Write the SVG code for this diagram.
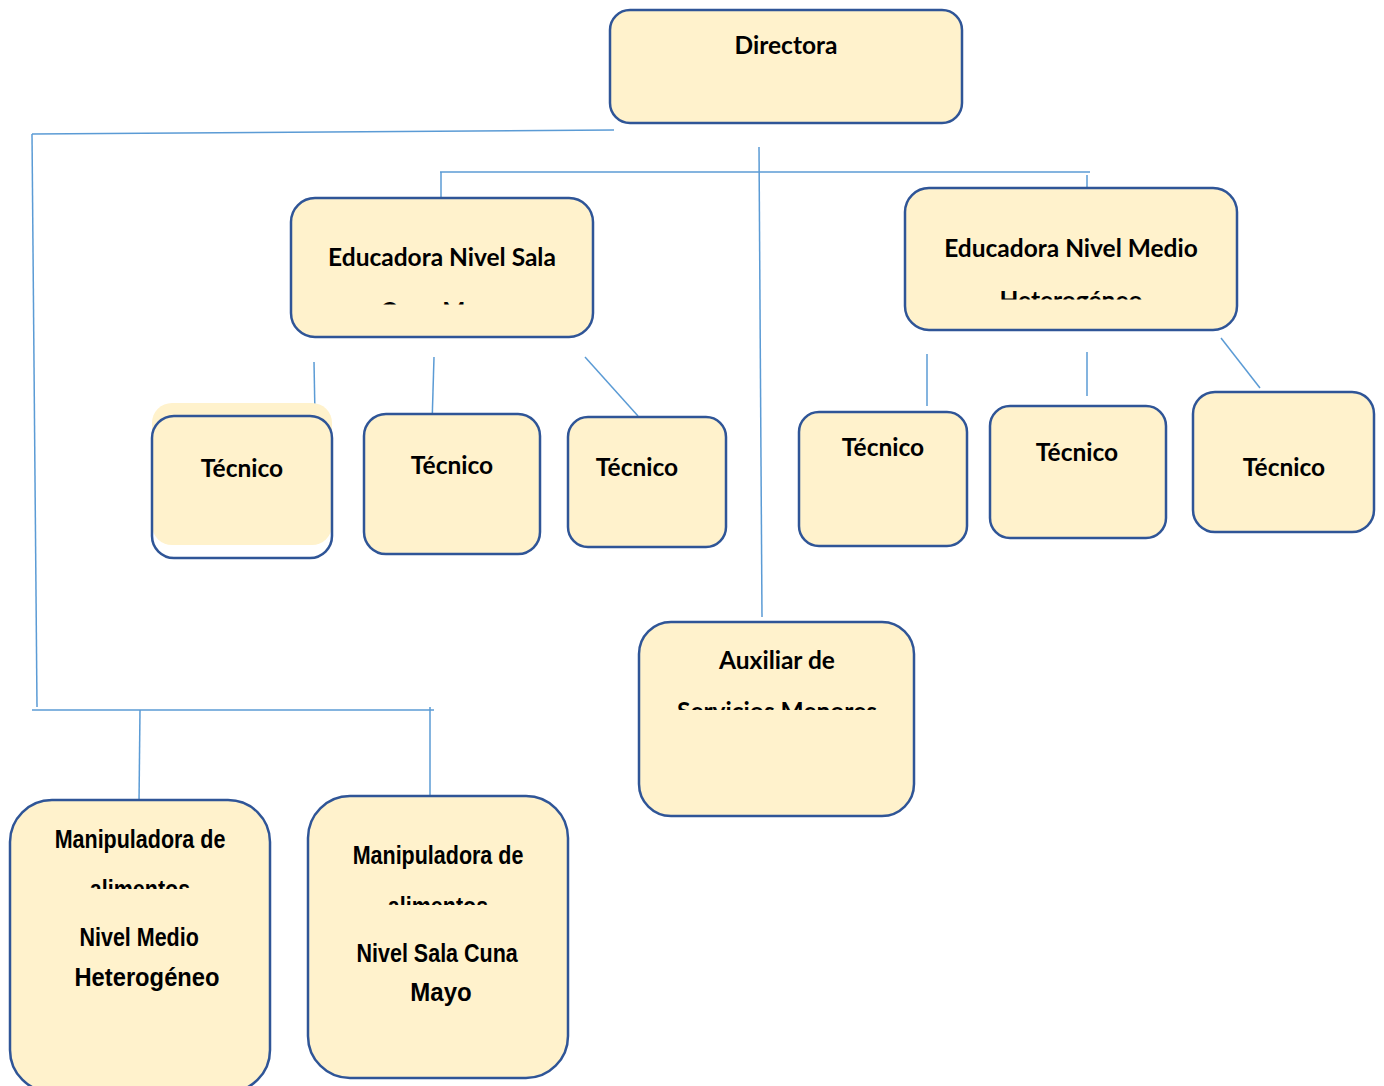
<svg xmlns="http://www.w3.org/2000/svg" width="1384" height="1086" viewBox="0 0 1384 1086">
<style>
.box{fill:#fff2cc;stroke:#2f5597;stroke-width:2.5}
.fillonly{fill:#fff2cc;stroke:none}
.t{font-family:Lato,"Open Sans","Liberation Sans",sans-serif;font-weight:bold;font-size:24.5px;fill:#000;text-anchor:middle}
.n{font-family:"Liberation Sans",Arial,sans-serif;font-weight:bold;font-size:25px;fill:#000;text-anchor:middle}
.c line{stroke:#5b9bd5;stroke-width:1.5;fill:none}
</style>
<defs>
<clipPath id="c1"><rect x="0" y="0" width="1384" height="304.5"/></clipPath>
<clipPath id="c2"><rect x="0" y="0" width="1384" height="299.5"/></clipPath>
<clipPath id="c3"><rect x="0" y="0" width="1384" height="710"/></clipPath>
<clipPath id="c4"><rect x="-1000" y="0" width="3000" height="889"/></clipPath>
<clipPath id="c5"><rect x="-1000" y="0" width="3000" height="905"/></clipPath>
</defs>
<rect width="1384" height="1086" fill="#fff"/>
<g class="c">
<line x1="614" y1="130" x2="32" y2="134"/>
<line x1="32" y1="134" x2="37" y2="707"/>
<line x1="32" y1="710" x2="434" y2="710"/>
<line x1="140" y1="710" x2="139" y2="803"/>
<line x1="430" y1="707" x2="430" y2="797"/>
<line x1="759" y1="147" x2="762" y2="617"/>
<line x1="440" y1="172" x2="1090" y2="172"/>
<line x1="441" y1="172" x2="441" y2="218"/>
<line x1="1087" y1="175" x2="1087" y2="212"/>
<line x1="314" y1="362" x2="315" y2="416"/>
<line x1="434" y1="357" x2="432" y2="425"/>
<line x1="585" y1="357" x2="638" y2="416"/>
<line x1="927" y1="354" x2="927" y2="406"/>
<line x1="1087" y1="352" x2="1087" y2="396"/>
<line x1="1221" y1="338" x2="1260" y2="388"/>
</g>
<g id="directora">
<rect class="box" x="610" y="10" width="352" height="113" rx="20"/>
<text class="t" x="786" y="54">Directora</text>
</g>
<g id="educadora-sala">
<rect class="box" x="291" y="198" width="302" height="139" rx="24"/>
<text class="t" x="442" y="266">Educadora Nivel Sala</text>
<text class="t" x="442" y="320" clip-path="url(#c1)">Cuna Mayo</text>
</g>
<g id="educadora-medio">
<rect class="box" x="905" y="188" width="332" height="142" rx="24"/>
<text class="t" x="1071" y="257">Educadora Nivel Medio</text>
<text class="t" x="1071" y="309" clip-path="url(#c2)">Heterogéneo</text>
</g>
<g id="tecnico1">
<rect class="fillonly" x="152" y="403" width="180" height="142" rx="20"/>
<rect x="152" y="416" width="180" height="142" rx="22" fill="none" stroke="#2f5597" stroke-width="2.5"/>
<text class="t" x="242" y="477">Técnico</text>
</g>
<g id="tecnico2">
<rect class="box" x="364" y="414" width="176" height="140" rx="22"/>
<text class="t" x="452" y="474">Técnico</text>
</g>
<g id="tecnico3">
<rect class="box" x="568" y="417" width="158" height="130" rx="20"/>
<text class="t" x="637" y="476">Técnico</text>
</g>
<g id="tecnico4">
<rect class="box" x="799" y="412" width="168" height="134" rx="20"/>
<text class="t" x="883" y="456">Técnico</text>
</g>
<g id="tecnico5">
<rect class="box" x="990" y="406" width="176" height="132" rx="20"/>
<text class="t" x="1077" y="461">Técnico</text>
</g>
<g id="tecnico6">
<rect class="box" x="1193" y="392" width="181" height="140" rx="22"/>
<text class="t" x="1284" y="476">Técnico</text>
</g>
<g id="auxiliar">
<rect class="box" x="639" y="622" width="275" height="194" rx="32"/>
<text class="t" x="777" y="669">Auxiliar de</text>
<text class="t" x="777" y="720" clip-path="url(#c3)">Servicios Menores</text>
</g>
<g id="manipuladora-medio">
<rect class="box" x="10" y="800" width="260" height="292" rx="42"/>
<g transform="translate(140,0) scale(0.86,1)">
<text class="n" x="0" y="848">Manipuladora de</text>
<text class="n" x="0" y="898" clip-path="url(#c4)">alimentos</text>
<text class="n" x="-1" y="946">Nivel Medio</text>
</g>
<text class="n" x="147" y="986" transform="translate(147,0) scale(0.95,1) translate(-147,0)">Heterogéneo</text>
</g>
<g id="manipuladora-sala">
<rect class="box" x="308" y="796" width="260" height="282" rx="42"/>
<g transform="translate(438,0) scale(0.86,1)">
<text class="n" x="0" y="864">Manipuladora de</text>
<text class="n" x="0" y="915" clip-path="url(#c5)">alimentos</text>
<text class="n" x="-1" y="962">Nivel Sala Cuna</text>
</g>
<text class="n" x="441" y="1001" transform="translate(441,0) scale(0.96,1) translate(-441,0)">Mayo</text>
</g>
</svg>
